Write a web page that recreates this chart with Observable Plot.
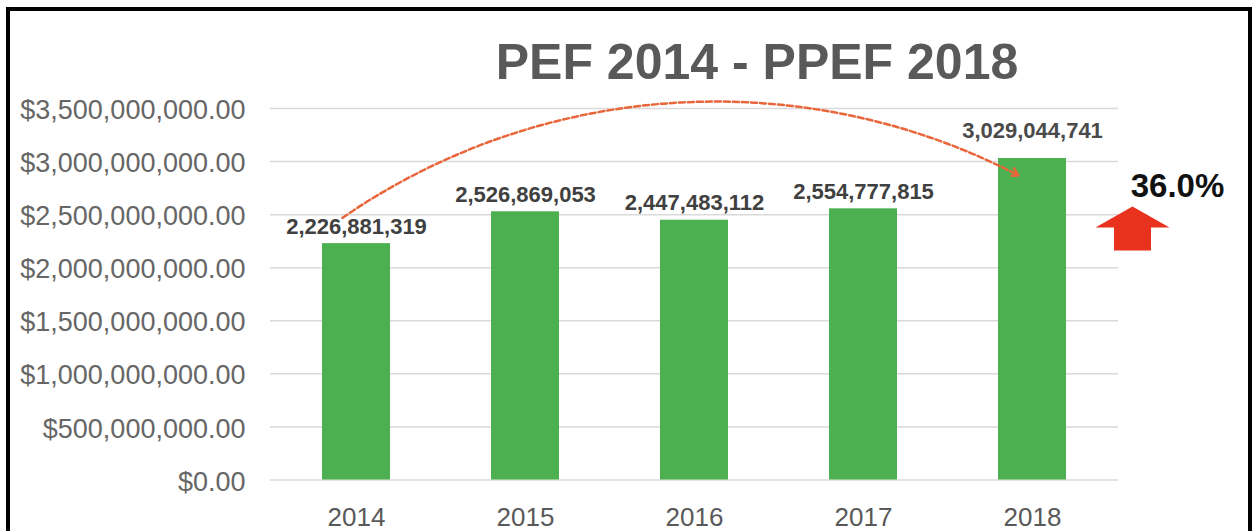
<!DOCTYPE html>
<html>
<head>
<meta charset="utf-8">
<script src="https://cdn.jsdelivr.net/npm/d3@7"></script>
<script src="https://cdn.jsdelivr.net/npm/@observablehq/plot@0.6"></script>
<style>
  html, body { margin: 0; padding: 0; background: #fff; }
  #wrap { position: relative; width: 1253px; height: 531px; overflow: hidden; background: #fff; font-family: "Liberation Sans", Arial, sans-serif; }
  #frame { position: absolute; left: 6px; top: 7px; width: 1246px; height: 600px; box-sizing: border-box; border: 4px solid #000; pointer-events: none; }
  #title { position: absolute; left: 257px; top: 37px; width: 1000px; text-align: center; font-size: 50px; line-height: 50px; font-weight: bold; color: #595959; }
  #chart { position: absolute; left: 0; top: 90px; }
</style>
</head>
<body>
<div id="wrap">
  <div id="title">PEF 2014 - PPEF 2018</div>
  <div id="chart"></div>
  <div id="frame"></div>
</div>
<script>
// ---- data ----
const years = ["2014", "2015", "2016", "2017", "2018"];
const amounts = [2226881319, 2526869053, 2447483112, 2554777815, 3029044741];
const yTicks = [0, 500000000, 1000000000, 1500000000, 2000000000, 2500000000, 3000000000, 3500000000];
// annotation levels (values on the y scale)
const curveStartValue = 2470000000;
const curveEndValue = 2870000000;
const arrowLevel = 2370000000;

const data = years.map((year, i) => ({year, amount: amounts[i]}));
const growth = amounts[amounts.length - 1] / amounts[0] - 1;

// custom up-arrow symbol (unit = r)
const upArrow = {
  draw(ctx, size) {
    const k = Math.sqrt(size / Math.PI) / 22;
    const pts = [[0, -22], [37, -1], [18.5, -1], [18.5, 22], [-18.5, 22], [-18.5, -1], [-37, -1]];
    ctx.moveTo(pts[0][0] * k, pts[0][1] * k);
    for (let i = 1; i < pts.length; i++) ctx.lineTo(pts[i][0] * k, pts[i][1] * k);
    ctx.closePath();
  }
};

const chart = Plot.plot({
  width: 1253,
  height: 441,
  marginTop: 18,
  marginBottom: 51.5,
  marginLeft: 270,
  marginRight: 135,
  style: {fontFamily: "'Liberation Sans', Arial, sans-serif", background: "transparent", overflow: "visible"},
  x: {domain: years, paddingInner: 0.6, paddingOuter: 0.3, label: null},
  y: {domain: [0, 3500000000], label: null},
  marks: [
    Plot.gridY(yTicks, {stroke: "#d9d9d9", strokeOpacity: 1, strokeWidth: 1.5}),
    Plot.barY(data, {x: "year", y: "amount", fill: "#4CAF50"}),
    Plot.axisY({ticks: yTicks, tickFormat: d3.format("$,.2f"), tickSize: 0, tickPadding: 25, fontSize: 27, color: "#666", dy: 2}),
    Plot.axisX({tickSize: 0, tickPadding: 28, fontSize: 26, color: "#595959"}),
    Plot.text(data.slice(0, 4), {x: "year", y: "amount", text: d => d3.format(",")(d.amount), lineAnchor: "bottom", dy: -10, fontSize: 22, fontWeight: "bold", fill: "#404040"}),
    Plot.text(data.slice(4), {x: "year", y: "amount", text: d => d3.format(",")(d.amount), lineAnchor: "bottom", dy: -20, fontSize: 22, fontWeight: "bold", fill: "#4a4a4a"}),
    Plot.arrow([0], {
      x1: () => years[0], y1: () => curveStartValue,
      x2: () => years[years.length - 1], y2: () => curveEndValue,
      bend: 31, stroke: "#E8663A", strokeWidth: 2.5, strokeDasharray: "6,3", headLength: 5, dx: -14
    }),
    Plot.dot([0], {x: () => years[years.length - 1], y: () => arrowLevel, symbol: upArrow, r: 22, fill: "#E8321E", stroke: "none", dx: 100}),
    Plot.text([growth], {x: () => years[years.length - 1], y: () => arrowLevel, text: d => d3.format(".1%")(d), dx: 145, dy: -31, lineAnchor: "bottom", fontSize: 33, fontWeight: "bold", fill: "#111"})
  ]
});
document.getElementById("chart").appendChild(chart);
</script>
</body>
</html>
